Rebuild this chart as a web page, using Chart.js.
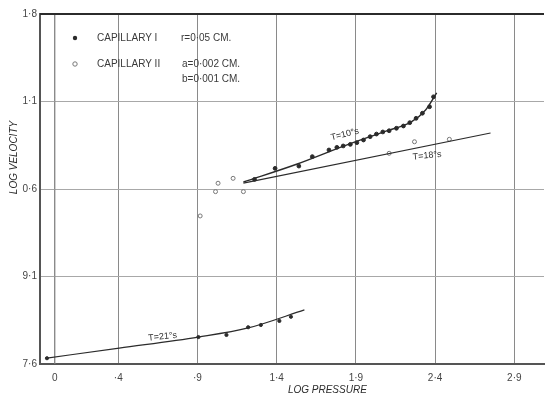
<!DOCTYPE html>
<html>
<head>
<meta charset="utf-8">
<script src="https://cdn.jsdelivr.net/npm/chart.js@4/dist/chart.umd.min.js"></script>
<style>
  html, body { margin: 0; padding: 0; background: #fff; }
  #wrap { width: 549px; height: 396px; }
</style>
</head>
<body>
<div id="wrap"><canvas id="chartCapillary"></canvas></div>
<script>
// axis ticks (values and the labels as printed)
var xTicks = [0, 0.4, 0.9, 1.4, 1.9, 2.4, 2.9];
var xTickLabels = ["0", "·4", "·9", "1·4", "1·9", "2·4", "2·9"];
var yTicks = [7.6, 8.1, 8.6, 9.1, 9.6];
var yTickLabels = ["7·6", "9·1", "0·6", "1·1", "1·8"];

// Capillary I, upper run (log pressure, log velocity)
var cap1UpperX = [1.26, 1.39, 1.54, 1.625, 1.73, 1.78, 1.82, 1.865, 1.906, 1.948, 1.99, 2.03, 2.07, 2.11, 2.156, 2.2, 2.24, 2.28, 2.32, 2.365, 2.39];
var cap1UpperY = [8.655, 8.718, 8.731, 8.785, 8.823, 8.838, 8.846, 8.855, 8.865, 8.88, 8.899, 8.914, 8.926, 8.933, 8.947, 8.96, 8.979, 9.004, 9.033, 9.07, 9.127];

// Capillary I, lower run
var cap1LowerX = [-0.05, 0.906, 1.083, 1.22, 1.30, 1.417, 1.49];
var cap1LowerY = [7.633, 7.754, 7.766, 7.81, 7.823, 7.846, 7.87];

// Capillary II
var cap2X = [0.917, 1.014, 1.03, 1.125, 1.19, 2.11, 2.27, 2.49];
var cap2Y = [8.446, 8.585, 8.633, 8.661, 8.585, 8.804, 8.87, 8.884];

// drawn curves
var curve10X = [1.19, 1.53, 1.84, 2.09, 2.25, 2.34, 2.41];
var curve10Y = [8.64, 8.743, 8.851, 8.931, 8.983, 9.051, 9.149];
var curve18X = [1.19, 2.75];
var curve18Y = [8.634, 8.92];
var curve21X = [-0.05, 0.406, 0.906, 1.22, 1.575];
var curve21Y = [7.634, 7.691, 7.754, 7.806, 7.909];

// curve labels: text, anchor x, anchor y, tilt (deg)
var curveLabels = ["T=10°s", "T=18°s", "T=21°s"];
var curveLabelX = [1.83, 2.35, 0.68];
var curveLabelY = [8.912, 8.79, 7.756];
var curveLabelTilt = [-14, -6, -6];

function pts(xs, ys) {
    return xs.map(function (x, i) { return { x: x, y: ys[i] }; });
}

var ink = "#2b2b2b";
var handFont = "'Liberation Sans', 'DejaVu Sans', sans-serif";

var extrasPlugin = {
    id: "extras",
    beforeDatasetsDraw: function (chart) {
        // grid line at x = 0 (Chart.js leaves the first one out)
        var ctx = chart.ctx;
        var area = chart.chartArea;
        var px = chart.scales.x.getPixelForValue(xTicks[0]);
        ctx.save();
        ctx.strokeStyle = "#8a8a8a";
        ctx.lineWidth = 1;
        ctx.beginPath();
        ctx.moveTo(px, area.top);
        ctx.lineTo(px, area.bottom);
        ctx.stroke();
        ctx.restore();
    },
    afterDatasetsDraw: function (chart) {
        var ctx = chart.ctx;
        var area = chart.chartArea;
        var xs = chart.scales.x, ys = chart.scales.y;
        ctx.save();
        ctx.fillStyle = ink;
        ctx.strokeStyle = ink;

        // top border
        ctx.lineWidth = 2;
        ctx.beginPath();
        ctx.moveTo(area.left, area.top);
        ctx.lineTo(area.right, area.top);
        ctx.stroke();

        // legend inside plot
        var lx = area.left + 35, ly = area.top + 24;
        ctx.beginPath();
        ctx.arc(lx, ly, 2.2, 0, Math.PI * 2);
        ctx.fill();
        ctx.lineWidth = 1;
        ctx.strokeStyle = "#777";
        ctx.beginPath();
        ctx.arc(lx, ly + 26, 2.2, 0, Math.PI * 2);
        ctx.stroke();
        ctx.fillStyle = "#3a3a3a";
        ctx.font = "10px " + handFont;
        ctx.textBaseline = "middle";
        ctx.textAlign = "left";
        ctx.fillText("CAPILLARY I", lx + 22, ly);
        ctx.fillText("r=0·05 CM.", lx + 106, ly);
        ctx.fillText("CAPILLARY II", lx + 22, ly + 26);
        ctx.fillText("a=0·002 CM.", lx + 107, ly + 26);
        ctx.fillText("b=0·001 CM.", lx + 107, ly + 41);

        // curve labels
        ctx.fillStyle = ink;
        ctx.font = "9px " + handFont;
        ctx.textAlign = "center";
        curveLabels.forEach(function (t, i) {
            ctx.save();
            ctx.translate(xs.getPixelForValue(curveLabelX[i]), ys.getPixelForValue(curveLabelY[i]));
            ctx.rotate(curveLabelTilt[i] * Math.PI / 180);
            ctx.fillText(t, 0, 0);
            ctx.restore();
        });

        // axis titles
        ctx.font = "italic 10px " + handFont;
        ctx.textAlign = "center";
        ctx.fillText("LOG PRESSURE", xs.getPixelForValue(1.72), 390);
        ctx.save();
        ctx.translate(14, ys.getPixelForValue(8.78));
        ctx.rotate(-Math.PI / 2);
        ctx.fillText("LOG VELOCITY", 0, 0);
        ctx.restore();
        ctx.restore();
    }
};

function drawCapillaryChart() {
    var ctxCapillary = document.getElementById("chartCapillary");
    var chartCapillary = new Chart(ctxCapillary, {
        type: "scatter",
        data: {
            datasets: [{
                label: "T=10",
                data: pts(curve10X, curve10Y),
                showLine: true,
                cubicInterpolationMode: "monotone",
                borderColor: ink,
                borderWidth: 1.4,
                pointRadius: 0
            }, {
                label: "T=18",
                data: pts(curve18X, curve18Y),
                showLine: true,
                borderColor: ink,
                borderWidth: 1.2,
                pointRadius: 0
            }, {
                label: "T=21",
                data: pts(curve21X, curve21Y),
                showLine: true,
                cubicInterpolationMode: "monotone",
                borderColor: ink,
                borderWidth: 1.2,
                pointRadius: 0
            }, {
                label: "Capillary I",
                data: pts(cap1UpperX, cap1UpperY),
                backgroundColor: ink,
                borderColor: ink,
                pointRadius: 1.9
            }, {
                label: "Capillary I (low)",
                data: pts(cap1LowerX, cap1LowerY),
                backgroundColor: ink,
                borderColor: ink,
                pointRadius: 1.6
            }, {
                label: "Capillary II",
                data: pts(cap2X, cap2Y),
                backgroundColor: "#fff",
                borderColor: "#777",
                borderWidth: 1,
                pointRadius: 2
            }]
        },
        options: {
            responsive: true,
            maintainAspectRatio: false,
            animation: false,
            layout: { padding: { top: 14, right: 0, left: 0, bottom: 0 } },
            plugins: {
                legend: { display: false },
                tooltip: { enabled: false }
            },
            scales: {
                x: {
                    type: "linear",
                    min: -0.094,
                    max: 3.0875,
                    afterBuildTicks: function (s) { s.ticks = xTicks.map(function (v) { return { value: v }; }); },
                    afterFit: function (s) { s.height = 32; },
                    ticks: {
                        callback: function (v, i) { return xTickLabels[i]; },
                        color: "#444",
                        font: { family: handFont, size: 10 },
                        padding: 8,
                        maxRotation: 0
                    },
                    grid: { color: "#8a8a8a", lineWidth: 1, drawTicks: false },
                    border: { color: "#555", width: 2 }
                },
                y: {
                    type: "linear",
                    min: 7.6,
                    max: 9.6,
                    afterBuildTicks: function (s) { s.ticks = yTicks.map(function (v) { return { value: v }; }); },
                    afterFit: function (s) { s.width = 40; },
                    ticks: {
                        callback: function (v, i) { return yTickLabels[i]; },
                        color: "#444",
                        font: { family: handFont, size: 10 },
                        padding: 3
                    },
                    grid: { color: "#a8a8a8", lineWidth: 1, drawTicks: false },
                    border: { color: "#555", width: 2 }
                }
            }
        },
        plugins: [extrasPlugin]
    });
}

drawCapillaryChart();
</script>
</body>
</html>
